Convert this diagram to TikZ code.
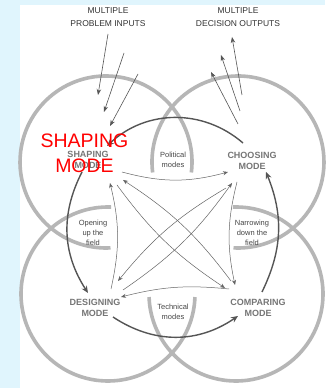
\documentclass[tikz,border=0pt]{standalone}
\usepackage{fontspec}
\setmainfont{Liberation Sans}
\usetikzlibrary{arrows.meta, positioning}
\definecolor{bgblue}{RGB}{224,245,253}
\definecolor{ringgray}{RGB}{182,182,182}
\definecolor{cyclegray}{RGB}{85,85,85}
\definecolor{linkgray}{RGB}{100,100,100}
\definecolor{modegray}{RGB}{118,118,118}
\definecolor{notegray}{RGB}{70,70,70}
\tikzstyle{mode} = [align=center, inner sep=0pt, text=modegray, font=\fontsize{9}{10.5}\selectfont\bfseries]
\tikzstyle{note} = [align=center, inner sep=0pt, text=notegray, font=\fontsize{7.5}{9.8}\selectfont]
\tikzstyle{heading} = [align=center, inner sep=0pt, text=black!80, font=\fontsize{8.5}{13.4}\selectfont]
\tikzstyle{overlay} = [align=center, inner sep=0pt, text=red, font=\fontsize{19.5}{25}\selectfont]
\tikzstyle{ring} = [draw=ringgray, line width=3.6pt]
\tikzstyle{mainflow} = [draw=cyclegray, line width=1.4pt, -{Stealth[length=7pt,width=6pt]}]
\tikzstyle{switch} = [draw=linkgray, line width=0.5pt, -{Stealth[length=5pt,width=4pt]}]
\tikzstyle{feed} = [draw=cyclegray, line width=0.6pt, -{Stealth[length=6pt,width=4.5pt]}]
\begin{document}
\begin{tikzpicture}[x=1pt, y=1pt]
        \useasboundingbox (0,0) rectangle (325,388);
        \fill [bgblue] (0,0) rectangle (325,388);
        \fill [white] (20,0) rectangle (325,383);

        % four overlapping rings
        \coordinate (tlc) at (106,226);
        \coordinate (trc) at (238,226);
        \coordinate (blc) at (108,94);
        \coordinate (brc) at (236,94);
        \draw [ring] ([shift={(-7:86)}]tlc) arc[start angle=-7, end angle=273, radius=86];
        \draw [ring] ([shift={(187:86)}]trc) arc[start angle=187, end angle=-93, radius=86];
        \draw [ring] ([shift={(88:87)}]blc) arc[start angle=88, end angle=358, radius=87];
        \draw [ring] ([shift={(92:87)}]brc) arc[start angle=92, end angle=-178, radius=87];

        \node (inputs) [heading] at (108,371) {MULTIPLE\\PROBLEM INPUTS};
        \node (outputs) [heading] at (238,371) {MULTIPLE\\DECISION OUTPUTS};

        \node (shaping) [mode] at (88,228) {SHAPING\\MODE};
        \node (choosing) [mode] at (252,227) {CHOOSING\\MODE};
        \node (designing) [mode] at (95,80) {DESIGNING\\MODE};
        \node (comparing) [mode] at (258,80) {COMPARING\\MODE};

        \node (political) [note] at (173,228) {Political\\modes};
        \node (technical) [note] at (173,76) {Technical\\modes};
        \node (opening) [note] at (93,155) {Opening\\up the\\field};
        \node (narrowing) [note] at (252,155) {Narrowing\\down the\\field};

        % inputs and outputs
        \coordinate (in1) at (108,354);
        \coordinate (in2) at (124,335);
        \coordinate (in3) at (138,314);
        \coordinate (in1end) at (98,293);
        \coordinate (in2end) at (104,276);
        \coordinate (in3end) at (110,262);
        \coordinate (out1) at (242,293);
        \coordinate (out2) at (240,277);
        \coordinate (out3) at (238,264);
        \coordinate (out1end) at (232,351);
        \coordinate (out2end) at (221,333);
        \coordinate (out3end) at (211,316);
        \draw [feed] (in1) -- (in1end);
        \draw [feed] (in2) -- (in2end);
        \draw [feed] (in3) -- (in3end);
        \draw [feed] (out1) -- (out1end);
        \draw [feed] (out2) -- (out2end);
        \draw [feed] (out3) -- (out3end);

        % main cycle
        \draw [mainflow] ([shift={(-9,18)}]choosing.center) to[bend right=42] ([shift={(19,14)}]shaping.center);
        \draw [mainflow] ([shift={(-6,-12)}]shaping.center) to[bend right=30] ([shift={(-7,15)}]designing.center);
        \draw [mainflow] ([shift={(18,-9)}]designing.center) to[bend right=34] ([shift={(-20,-8)}]comparing.center);
        \draw [mainflow] ([shift={(4,16)}]comparing.center) to[bend right=24] ([shift={(14,-11)}]choosing.center);

        % switches between neighbouring modes
        \draw [switch] ([shift={(34,-12)}]shaping.center) to[bend right=15] ([shift={(-24,-11)}]choosing.center);
        \draw [switch] ([shift={(-15,-21)}]choosing.center) to[bend right=13] ([shift={(-23,23)}]comparing.center);
        \draw [switch] ([shift={(-29,19)}]comparing.center) to[bend right=10] ([shift={(26,11)}]designing.center);
        \draw [switch] ([shift={(16,19)}]designing.center) to[bend right=13] ([shift={(22,-23)}]shaping.center);

        % switches across
        \draw [switch] ([shift={(-27,27)}]comparing.center) to[bend right=10] ([shift={(35,-20)}]shaping.center);
        \draw [switch] ([shift={(29,-25)}]shaping.center) to[bend right=10] ([shift={(-33,20)}]comparing.center);
        \draw [switch] ([shift={(28,18)}]designing.center) to[bend right=10] ([shift={(-20,-22)}]choosing.center);
        \draw [switch] ([shift={(-26,-27)}]choosing.center) to[bend right=10] ([shift={(23,27)}]designing.center);

        \node (shapingred) [overlay] at (84.5,234.5) {SHAPING\\MODE};
\end{tikzpicture}
\end{document}
